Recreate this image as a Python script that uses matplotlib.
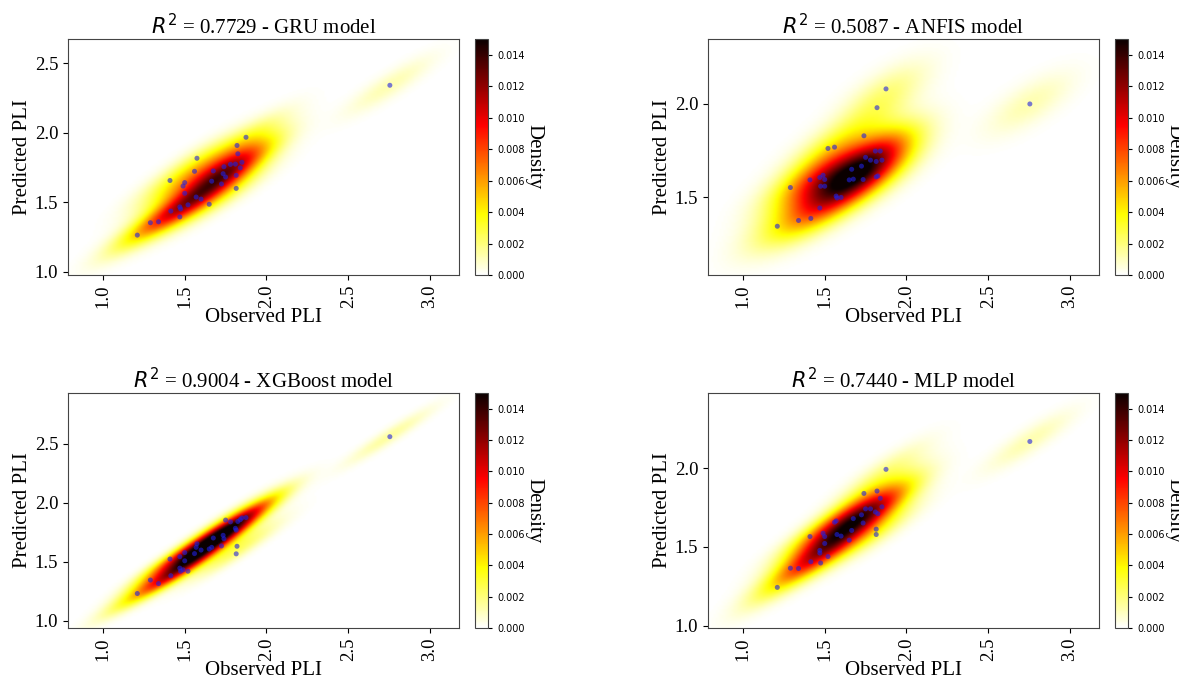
import numpy as np
import matplotlib
matplotlib.use("Agg")
import matplotlib.pyplot as plt
from matplotlib.ticker import MultipleLocator

# ---------------- data ----------------
observed = [1.21, 1.29, 1.34, 1.41, 1.415, 1.47, 1.47, 1.475, 1.49, 1.50, 1.50,
            1.52, 1.56, 1.57, 1.575, 1.60, 1.65, 1.665, 1.675, 1.725, 1.735,
            1.74, 1.75, 1.78, 1.81, 1.815, 1.815, 1.82, 1.825, 1.84, 1.85,
            1.875, 2.755]

pred_gru = [1.262, 1.351, 1.358, 1.655, 1.435, 1.393, 1.465, 1.450, 1.615,
            1.563, 1.640, 1.480, 1.721, 1.536, 1.815, 1.521, 1.484, 1.650,
            1.724, 1.630, 1.704, 1.754, 1.680, 1.771, 1.773, 1.598, 1.692,
            1.907, 1.847, 1.746, 1.786, 1.966, 2.34]

pred_anfis = [1.343, 1.551, 1.374, 1.592, 1.385, 1.441, 1.605, 1.558, 1.617,
              1.594, 1.558, 1.761, 1.768, 1.505, 1.495, 1.498, 1.592, 1.649,
              1.596, 1.666, 1.594, 1.829, 1.713, 1.698, 1.747, 1.608, 1.691,
              1.980, 1.613, 1.747, 1.698, 2.081, 2.00]

pred_xgb = [1.232, 1.346, 1.316, 1.524, 1.383, 1.544, 1.447, 1.421, 1.433,
            1.509, 1.579, 1.421, 1.570, 1.623, 1.653, 1.600, 1.609, 1.623,
            1.702, 1.635, 1.725, 1.696, 1.854, 1.839, 1.784, 1.568, 1.769,
            1.632, 1.842, 1.857, 1.872, 1.875, 2.56]

pred_mlp = [1.243, 1.365, 1.363, 1.566, 1.406, 1.478, 1.461, 1.398, 1.587,
            1.522, 1.566, 1.439, 1.657, 1.665, 1.579, 1.569, 1.543, 1.605,
            1.680, 1.704, 1.652, 1.840, 1.742, 1.742, 1.722, 1.613, 1.579,
            1.855, 1.711, 1.809, 1.755, 1.993, 2.17]

model_names = ["GRU", "ANFIS", "XGBoost", "MLP"]
r2_values = ["0.7729", "0.5087", "0.9004", "0.7440"]
predictions = [pred_gru, pred_anfis, pred_xgb, pred_mlp]
peak_density = [0.0140, 0.0165, 0.0180, 0.0155]

x_range = (0.786, 3.178)
y_ranges = [(0.975, 2.673), (1.081, 2.349), (0.94, 2.93), (0.985, 2.478)]
cbar_ticks = [0.000, 0.002, 0.004, 0.006, 0.008, 0.010, 0.012, 0.014]

# ---------------- helpers ----------------
def gaussian_kde_grid(x, y, gx, gy, bw_scale=1.0):
    data = np.vstack([x, y])
    n = data.shape[1]
    cov = np.cov(data)
    f = n ** (-1.0 / 6.0) * bw_scale
    K = cov * f * f
    Kinv = np.linalg.inv(K)
    norm = 1.0 / (2 * np.pi * np.sqrt(np.linalg.det(K))) / n
    pts = np.vstack([gx.ravel(), gy.ravel()])
    diff = pts[:, :, None] - data[:, None, :]
    q = np.einsum("ij,jmn,imn->mn", Kinv, diff, diff)
    return (norm * np.exp(-0.5 * q).sum(axis=1)).reshape(gx.shape)

plt.rcParams["font.family"] = ["Liberation Serif", "DejaVu Serif"]
plt.rcParams["mathtext.fontset"] = "dejavusans"

W, H = 1179, 686
fig = plt.figure(figsize=(W / 100, H / 100), dpi=100)

def rect(x0, y0, x1, y1):
    return [x0 / W, 1 - y1 / H, (x1 - x0) / W, (y1 - y0) / H]

ax_px = [(68, 39, 459, 275), (708, 39, 1099, 275),
         (68, 393, 459, 628), (708, 393, 1099, 628)]

for i in range(4):
    x0, y0, x1, y1 = ax_px[i]
    ax = fig.add_axes(rect(x0, y0, x1, y1))
    cax = fig.add_axes(rect(x1 + 16, y0, x1 + 29, y1))
    xs = np.array(observed)
    ys = np.array(predictions[i])
    yr = y_ranges[i]
    gx, gy = np.meshgrid(np.linspace(x_range[0], x_range[1], 200),
                         np.linspace(yr[0], yr[1], 200))
    pdf = gaussian_kde_grid(xs, ys, gx, gy, bw_scale=1.2)
    dens = pdf / pdf.max() * peak_density[i]
    im = ax.imshow(dens, origin="lower", aspect="auto", cmap="hot_r",
                   extent=[x_range[0], x_range[1], yr[0], yr[1]],
                   vmin=0, vmax=0.015, interpolation="bilinear")
    ax.scatter(xs, ys, s=13, color="#2020e0", alpha=0.6, edgecolors="none")
    ax.set_xlim(*x_range)
    ax.set_ylim(*yr)
    ax.xaxis.set_major_locator(MultipleLocator(0.5))
    ax.yaxis.set_major_locator(MultipleLocator(0.5))
    ax.tick_params(axis="x", labelrotation=90, labelsize=13.5)
    ax.tick_params(axis="y", labelsize=13.5)
    ax.set_xlabel("Observed PLI", fontsize=15, labelpad=0)
    ax.set_ylabel("Predicted PLI", fontsize=15, labelpad=2)
    ax.set_title(r"$R^2$ = " + r2_values[i] + " - " + model_names[i] + " model",
                 fontsize=15, pad=3)
    for s in ax.spines.values():
        s.set_color("#444444")
    cb = fig.colorbar(im, cax=cax, ticks=cbar_ticks)
    cax.set_yticklabels([f"{t:.3f}" for t in cbar_ticks], family="DejaVu Sans",
                        fontsize=7)
    cax.tick_params(length=3)
    cb.outline.set_edgecolor("#444444")
    cax.text(4.5, 0.5, "Density", rotation=270, transform=cax.transAxes,
             ha="center", va="center", fontsize=15)

fig.savefig("out.png", dpi=100)
